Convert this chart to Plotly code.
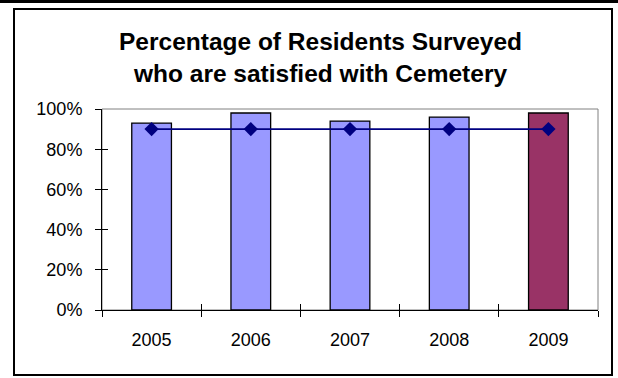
import plotly.graph_objects as go

# Survey results by year
years = ["2005", "2006", "2007", "2008", "2009"]
satisfied = [0.93, 0.98, 0.94, 0.96, 0.98]
target = [0.90, 0.90, 0.90, 0.90, 0.90]
bar_colors = ["#9999FF", "#9999FF", "#9999FF", "#9999FF", "#993366"]
y_ticks = [0, 0.2, 0.4, 0.6, 0.8, 1.0]
y_tick_labels = ["0%", "20%", "40%", "60%", "80%", "100%"]

FONT = "Liberation Sans, Arial, sans-serif"
W, H = 618, 378
L, R, T, B = 102, 20, 109, 68
pw, ph = W - L - R, H - T - B


def px_x(p):
    return (p - L) / pw


def px_y(p):
    return (H - B - p) / ph


fig = go.Figure()
fig.add_trace(go.Bar(
    x=years, y=satisfied, width=0.4,
    marker=dict(color=bar_colors, line=dict(color="#000000", width=1.3)),
    showlegend=False,
))
fig.add_trace(go.Scatter(
    x=years, y=target, mode="lines+markers",
    line=dict(color="#000080", width=1.6),
    marker=dict(symbol="diamond", size=11, color="#000080"),
    showlegend=False,
))
# invisible trace carrying the inner half of the cross tick marks
fig.add_trace(go.Scatter(x=years, y=satisfied, xaxis="x2", yaxis="y2",
                         mode="markers", marker=dict(opacity=0),
                         showlegend=False, hoverinfo="skip"))

axis_common = dict(showgrid=False, zeroline=False, linecolor="#000000",
                   linewidth=1, tickcolor="#000000", tickwidth=1)

fig.update_layout(
    width=W, height=H,
    margin=dict(l=L, r=R, t=T, b=B, pad=0),
    paper_bgcolor="#FFFFFF", plot_bgcolor="#FFFFFF",
    font=dict(family=FONT, size=18, color="#000000"),
    xaxis=dict(type="category", range=[-0.5, 4.5], showline=True,
               ticks="outside", ticklen=6, tickson="boundaries",
               ticklabelstandoff=13, **axis_common),
    yaxis=dict(range=[0, 1], tickvals=y_ticks, ticktext=y_tick_labels,
               showline=True, ticks="outside", ticklen=6,
               ticklabelstandoff=9, **axis_common),
    xaxis2=dict(type="category", range=[-0.5, 4.5], overlaying="x",
                showline=False, ticks="inside", ticklen=6,
                tickson="boundaries", showticklabels=False, **axis_common),
    yaxis2=dict(range=[0, 1], tickvals=y_ticks, overlaying="y",
                showline=False, ticks="inside", ticklen=6,
                showticklabels=False, **axis_common),
    annotations=[dict(
        text="<b>Percentage of Residents Surveyed<br>who are satisfied with Cemetery</b>",
        xref="paper", yref="paper", x=px_x(320.5), y=px_y(58),
        xanchor="center", yanchor="middle", showarrow=False,
        font=dict(family=FONT, size=24.5, color="#000000"),
    )],
    shapes=[
        # plot area border
        dict(type="rect", xref="paper", yref="paper", x0=0, x1=1, y0=0, y1=1,
             line=dict(color="#808080", width=1), layer="below"),
        # chart frame
        dict(type="rect", xref="paper", yref="paper",
             x0=px_x(14), x1=px_x(612), y0=px_y(375), y1=px_y(9),
             line=dict(color="#000000", width=2)),
        # rule along the top edge
        dict(type="line", xref="paper", yref="paper",
             x0=px_x(0), x1=px_x(618), y0=px_y(1.5), y1=px_y(1.5),
             line=dict(color="#000000", width=3)),
    ],
)

fig.write_html("out.html")
